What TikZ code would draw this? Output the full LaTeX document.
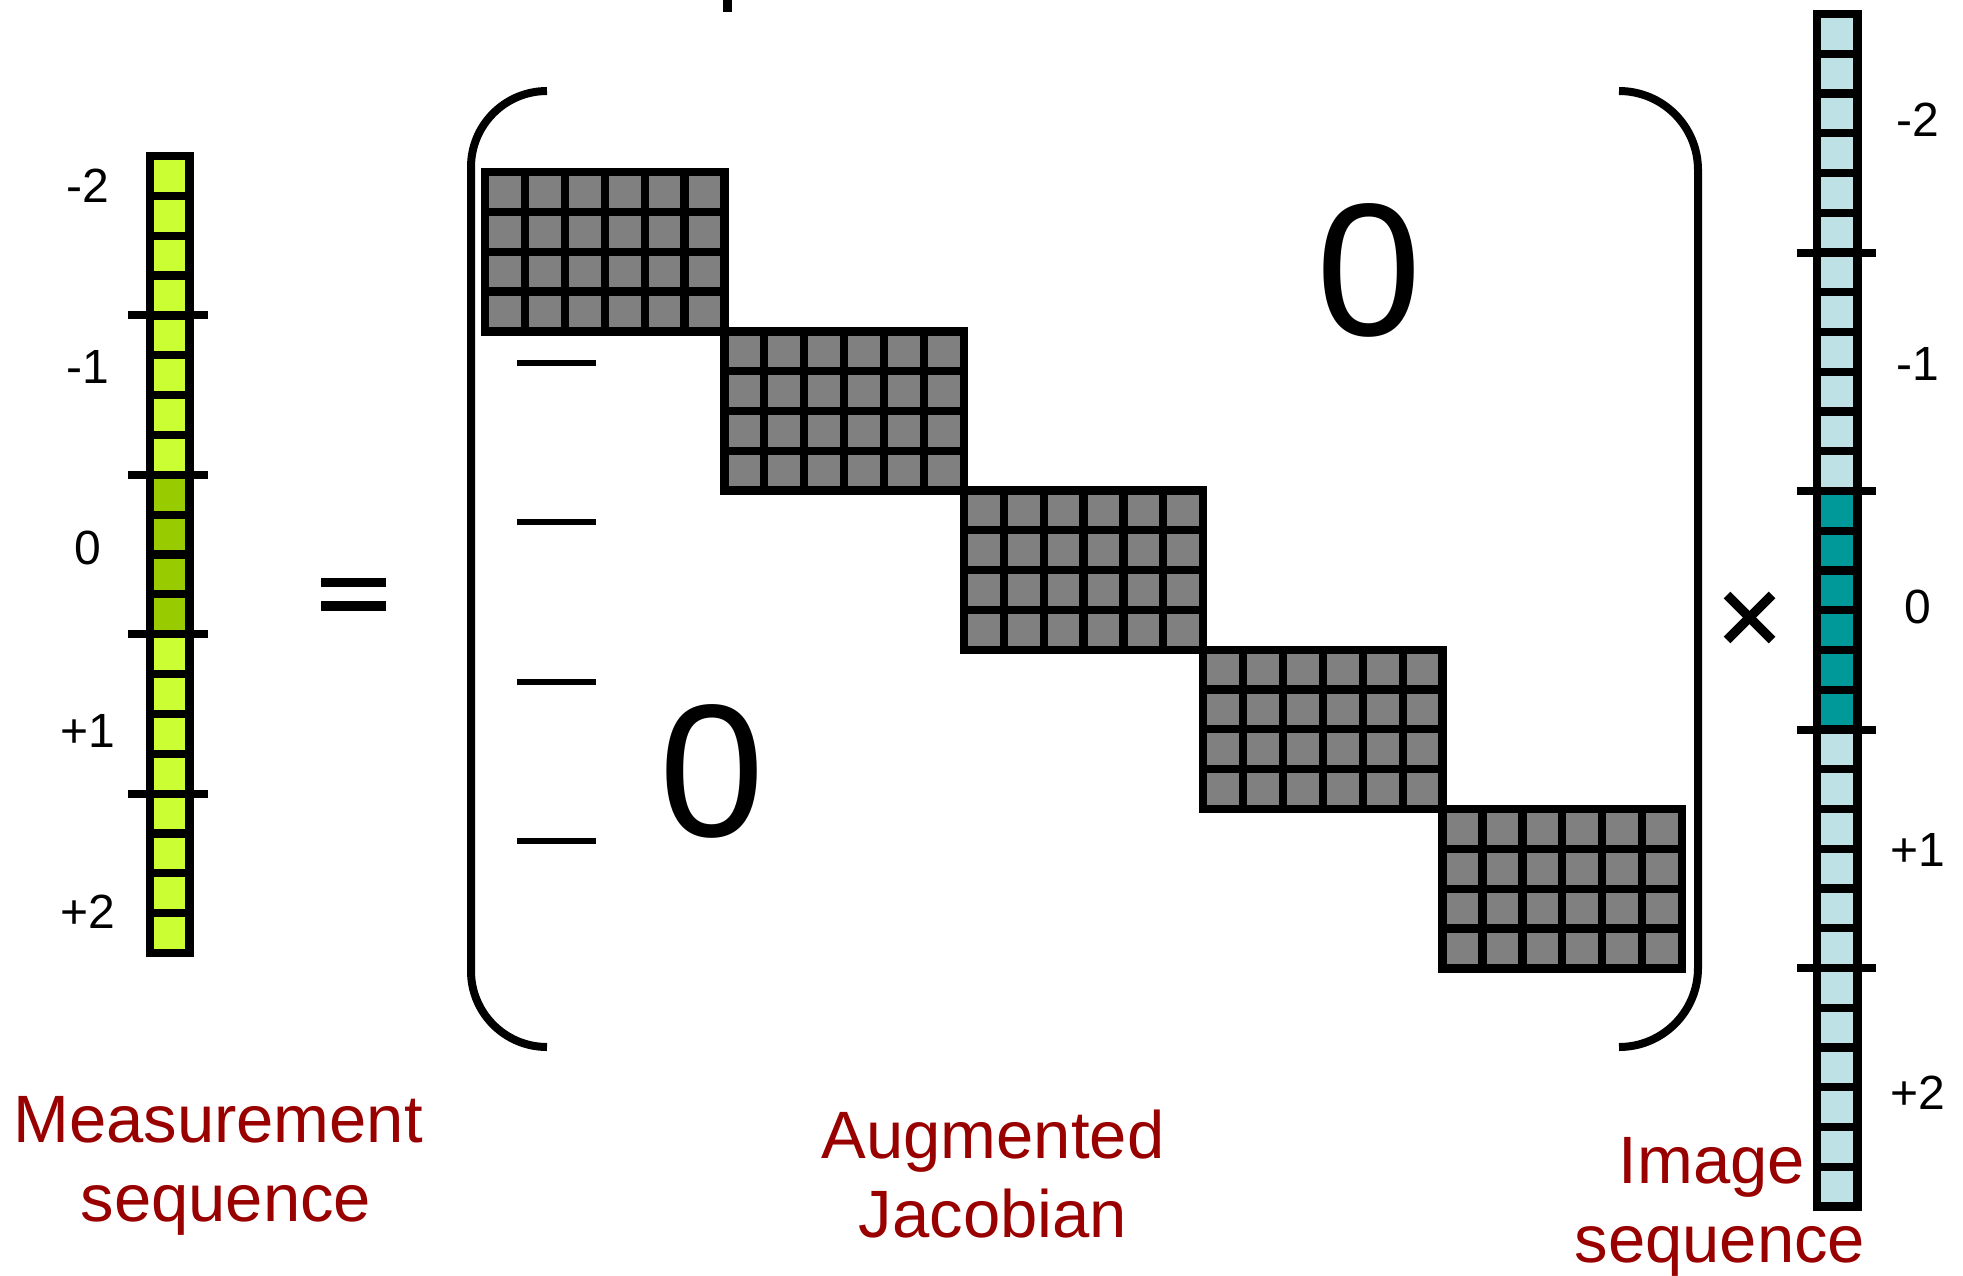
\documentclass[tikz,border=0pt]{standalone}
\usepackage{fontspec}
\setmainfont{Liberation Sans}
\definecolor{mlight}{HTML}{CCFF33}
\definecolor{mdark}{HTML}{99CC00}
\definecolor{ilight}{HTML}{BDE1E4}
\definecolor{idark}{HTML}{009999}
\definecolor{jgray}{HTML}{808080}
\definecolor{capred}{HTML}{990000}
\begin{document}
\begin{tikzpicture}[x=1pt,y=-1pt,
  gridline/.style={line width=8.5pt,black},
  sepline/.style={line width=8.2pt,black},
  tickmark/.style={line width=8pt,black},
  paren/.style={line width=8pt,black},
  dashmark/.style={line width=6pt,black},
  opmark/.style={line width=9.5pt,black},
  idx/.style={inner sep=0pt,anchor=base,font=\fontsize{48}{48}\selectfont},
  caption/.style={inner sep=0pt,anchor=base,text=capred,font=\fontsize{67}{67}\selectfont},
  zero/.style={inner sep=0pt,anchor=base,font=\fontsize{189}{189}\selectfont}]
\useasboundingbox (0,0) rectangle (1963,1275);

% ---- measurement sequence (20 cells) ----
\def\mp{39.85}
\fill[mlight] (150,156) rectangle (189.5,953);
\fill[mdark] (150,156+8*\mp) rectangle (189.5,156+12*\mp);
\foreach \i in {1,...,19} \draw[sepline] (150,156+\mp*\i) -- (189.5,156+\mp*\i);
\draw[gridline] (150,156) rectangle (189.5,953);
\foreach \k in {4,8,12,16} \draw[tickmark] (128,156+\mp*\k) -- (208,156+\mp*\k);
\node[idx] (m-2) at (88,202) {-2};
\node[idx] (m-1) at (88,383) {-1};
\node[idx] (m0)  at (88,564) {0};
\node[idx] (m+1) at (88,747) {+1};
\node[idx] (m+2) at (88,928) {+2};

% ---- equals sign ----
\draw[opmark] (321,582.5) -- (386,582.5);
\draw[opmark] (321,606) -- (386,606);

% ---- augmented Jacobian: five 6x4 blocks on the diagonal ----
\foreach \b in {0,...,4} {
  \pgfmathsetmacro{\xo}{485+239.4*\b}
  \pgfmathsetmacro{\yo}{172+159.25*\b}
  \fill[jgray] (\xo,\yo) rectangle (\xo+239.4,\yo+159.25);
  \foreach \c in {1,...,5} \draw[sepline] (\xo+39.9*\c,\yo) -- (\xo+39.9*\c,\yo+159.25);
  \foreach \r in {1,2,3} \draw[sepline] (\xo,\yo+39.81*\r) -- (\xo+239.4,\yo+39.81*\r);
  \draw[gridline] (\xo,\yo) rectangle (\xo+239.4,\yo+159.25);
}
\node[zero] (zup) at (1369,335) {0};
\node[zero] (zlo) at (712,836) {0};
\foreach \y in {363,522,682,841} \draw[dashmark] (517,\y) -- (596,\y);

% ---- brackets ----
\draw[paren,rounded corners=76pt] (547,91) -- (471,91) -- (471,1047) -- (547,1047);
\draw[paren,rounded corners=79pt] (1619,91) -- (1698,91) -- (1698,1047) -- (1619,1047);
\draw[line width=9pt] (727,0) -- (727,12);

% ---- times sign ----
\draw[opmark] (1727,595) -- (1772,640);
\draw[opmark] (1727,640) -- (1772,595);

% ---- image sequence (30 cells) ----
\def\ip{39.75}
\fill[ilight] (1817,14) rectangle (1857.5,1206.5);
\fill[idark] (1817,14+12*\ip) rectangle (1857.5,14+18*\ip);
\foreach \i in {1,...,29} \draw[sepline] (1817,14+\ip*\i) -- (1857.5,14+\ip*\i);
\draw[gridline] (1817,14) rectangle (1857.5,1206.5);
\foreach \k in {6,12,18,24} \draw[tickmark] (1797,14+\ip*\k) -- (1876,14+\ip*\k);
\node[idx] (i-2) at (1918,136) {-2};
\node[idx] (i-1) at (1918,380) {-1};
\node[idx] (i0)  at (1918,623) {0};
\node[idx] (i+1) at (1918,866) {+1};
\node[idx] (i+2) at (1918,1109) {+2};

% ---- captions ----
\node[caption] (meas1) at (218,1142) {Measurement};
\node[caption] (meas2) at (226,1221) {sequence};
\node[caption] (jac1) at (993,1158) {Augmented};
\node[caption] (jac2) at (993,1237) {Jacobian};
\node[caption] (img1) at (1712,1183) {Image};
\node[caption] (img2) at (1720,1262) {sequence};
\end{tikzpicture}
\end{document}
